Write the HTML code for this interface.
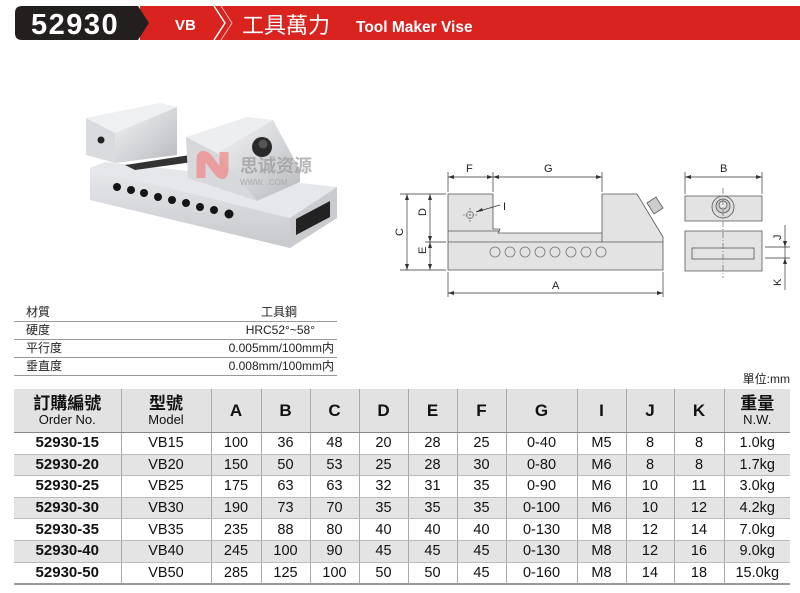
<!DOCTYPE html>
<html><head><meta charset="utf-8"><style>
body{margin:0;width:800px;height:593px;background:#fff;position:relative;overflow:hidden;font-family:"Liberation Sans","Noto Sans CJK TC",sans-serif;}
.abs{position:absolute}
table{border-collapse:collapse;position:absolute;left:14px;top:389px;width:776px;table-layout:fixed}
td{text-align:center;font-size:14.5px;color:#111;height:20.6px;padding:0;border-left:1px solid #aaa;line-height:18px}
td:first-child{border-left:none;font-weight:bold;font-size:15px}
tr.h td{background:#e2e2e2;height:43px;font-weight:bold;font-size:17px;border-bottom:1px solid #888}
tr.h td small{display:block;font-weight:normal;font-size:13px;line-height:14px}
tr.g td{background:#e4e4e4}
tr.w td{background:#fff}
tr td{border-bottom:1px solid #bbb}
tr:last-child td{border-bottom:2px solid #999}
.spec{position:absolute;left:14px;width:323px;font-size:12px;color:#222;border-bottom:1px solid #999;height:17px;line-height:17px}
.spec span{position:absolute;right:0}
.spec b{font-weight:normal;padding-left:12px}
</style></head><body>
<svg class="abs" style="left:0;top:0" width="800" height="50">
<rect x="140" y="6" width="660" height="34" fill="#d8231f"/>
<path d="M22 6 H138 L149 23 L138 40 H22 Q15 40 15 33 V13 Q15 6 22 6Z" fill="#231f1f"/>
<path d="M214 6 L225 23 L214 40" fill="none" stroke="#fff" stroke-width="1.5"/>
<path d="M221 6 L232 23 L221 40" fill="none" stroke="#f6b7b5" stroke-width="1"/>
<text x="31" y="34" font-family="Liberation Sans" font-weight="bold" font-size="29" letter-spacing="1.5" fill="#fff">52930</text>
<text x="175" y="30" font-family="Liberation Sans" font-weight="bold" font-size="15" fill="#fff">VB</text>
<text x="242" y="33" font-family="Noto Sans CJK TC" font-size="22" fill="#fff">工具萬力</text>
<text x="356" y="32" font-family="Liberation Sans" font-weight="bold" font-size="15.5" fill="#fff">Tool Maker Vise</text>
</svg>

<svg class="abs" style="left:0;top:0" width="380" height="280">
<defs><linearGradient id="m" x1="0" y1="0" x2="1" y2="1"><stop offset="0" stop-color="#f4f4f6"/><stop offset="1" stop-color="#b8babe"/></linearGradient>
<linearGradient id="m2" x1="0" y1="0" x2="0" y2="1"><stop offset="0" stop-color="#e8e9ec"/><stop offset="1" stop-color="#c6c8cc"/></linearGradient></defs>
<polygon points="90,168 105,162 337,187 290,218" fill="#e6e7ea"/>
<polygon points="90,168 290,218 290,248 90,200" fill="url(#m2)"/>
<polygon points="290,218 337,187 337,218 290,248" fill="#c9cbcf"/>
<polygon points="296,219 330,201 330,217 296,235" fill="#222"/>
<polygon points="125,165 190,155 200,161 135,170" fill="#333"/>
<polygon points="86,118 160,103 177,107 115,133" fill="#eef0f2"/>
<polygon points="86,118 115,133 115,163 86,155" fill="#d9dbde"/>
<polygon points="115,133 177,107 177,155 115,163" fill="url(#m)"/>
<circle cx="101" cy="140" r="3.5" fill="#222"/>
<polygon points="186,137 247,117 273,120 217,153" fill="#eceef0"/>
<polygon points="186,137 217,153 257,198 257,201 188,178" fill="#d6d8db"/>
<polygon points="217,153 273,120 300,170 300,182 257,201" fill="url(#m)"/>
<circle cx="262" cy="147" r="10" fill="#2a2a2a"/><circle cx="263" cy="144" r="4.5" fill="#555"/>
<g fill="#151515">
<circle cx="117" cy="187" r="4"/><circle cx="131" cy="190" r="4"/><circle cx="144" cy="193" r="4"/><circle cx="158" cy="197" r="4"/><circle cx="172" cy="200" r="4"/><circle cx="186" cy="203" r="4"/><circle cx="200" cy="207" r="4"/><circle cx="214" cy="210" r="4"/><circle cx="229" cy="214" r="4.5"/></g>
<path d="M201 178 V160 Q201 152 208 158 L217 170 Q224 180 224 168 V152" fill="none" stroke="#f08a8a" stroke-width="9" opacity="0.75"/>
<text x="240" y="172" font-family="Noto Sans CJK SC" font-size="18" font-weight="bold" fill="#999" opacity="0.7">思诚资源</text>
<text x="240" y="185" font-size="8" fill="#aaa">WWW.   .COM</text>
</svg>

<svg class="abs" style="left:0;top:0" width="800" height="300" font-family="Liberation Sans" font-size="11" fill="#222">
<g stroke="#555" stroke-width="0.8" fill="#e3e3e3">
<polygon points="448,194 493,194 493,229 500,229 498,233 602,233 602,194 637,194 663,237 663,270 448,270"/>
<line x1="448" y1="231" x2="500" y2="231"/><line x1="448" y1="242" x2="663" y2="242"/><line x1="602" y1="233" x2="602" y2="242"/>
<polygon points="685,196 762,196 762,221 685,221"/>
<polygon points="685,231 762,231 762,271 685,271"/>
<rect x="692" y="248" width="62" height="11" fill="#e3e3e3"/>
<polygon points="647,203 656,197 663,208 654,214" fill="#ccc"/>
<circle cx="723" cy="207" r="11" fill="#ddd"/><circle cx="723" cy="206" r="7" fill="#ccc"/><circle cx="723" cy="205" r="4" fill="#e8e8e8"/>
</g>
<g fill="none" stroke="#777" stroke-width="0.8">
<circle cx="495" cy="252" r="5"/><circle cx="510" cy="252" r="5"/><circle cx="525" cy="252" r="5"/><circle cx="540" cy="252" r="5"/><circle cx="555" cy="252" r="5"/><circle cx="571" cy="252" r="5"/><circle cx="586" cy="252" r="5"/><circle cx="601" cy="252" r="5"/>
<circle cx="470" cy="215" r="3.5"/>
<path d="M723 188 V278" stroke-dasharray="6,2,1,2"/>
<path d="M463 215 H477 M470 208 V222" stroke-dasharray="2,1"/>
</g>
<g stroke="#333" stroke-width="0.7" fill="none">
<path d="M448 172 V192 M493 172 V192 M602 172 V192 M448 177 H602 M685 172 V194 M762 172 V194 M685 177 H762"/>
<path d="M448 272 V297 M663 272 V297 M448 293 H663"/>
<path d="M400 194 H446 M400 270 H446 M425 242 H446 M407 194 V270 M430 194 V270"/>
<path d="M765 247 H790 M765 258 H790 M785 225 V290"/>
<path d="M476 212 L500 205"/>
</g>
<g fill="#333">
<path d="M448 177 l6 -2 v4z M493 177 l-6 -2 v4z M493 177 l6 -2 v4z M602 177 l-6 -2 v4z M685 177 l6 -2 v4z M762 177 l-6 -2 v4z M448 293 l6 -2 v4z M663 293 l-6 -2 v4z"/>
<path d="M407 194 l-2 6 h4z M407 270 l-2 -6 h4z M430 194 l-2 6 h4z M430 242 l-2 -6 h4z M430 242 l-2 6 h4z M430 270 l-2 -6 h4z M785 247 l-2 -6 h4z M785 258 l-2 6 h4z M476 212 l6 -4 l1 3z"/>
</g>
<text x="466" y="172">F</text><text x="544" y="172">G</text><text x="720" y="172">B</text><text x="552" y="289">A</text>
<text x="503" y="210">I</text>
<text transform="translate(403,236) rotate(-90)">C</text>
<text transform="translate(426,216) rotate(-90)">D</text>
<text transform="translate(426,254) rotate(-90)">E</text>
<text transform="translate(781,240) rotate(-90)">J</text>
<text transform="translate(781,286) rotate(-90)">K</text>
</svg>

<div class="spec" style="top:304px"><b>材質</b><span style="right:40px">工具鋼</span></div>
<div class="spec" style="top:322px"><b>硬度</b><span style="right:22px">HRC52°~58°</span></div>
<div class="spec" style="top:340px"><b>平行度</b><span style="right:3px">0.005mm/100mm内</span></div>
<div class="spec" style="top:358px"><b>垂直度</b><span style="right:3px">0.008mm/100mm内</span></div>
<div class="abs" style="right:10px;top:370px;font-size:12px;color:#222">單位:mm</div>

<table>
<colgroup><col style="width:107px"><col style="width:90px"><col style="width:50px"><col style="width:49px"><col style="width:49px"><col style="width:49px"><col style="width:49px"><col style="width:49px"><col style="width:71px"><col style="width:49px"><col style="width:48px"><col style="width:50px"><col></colgroup>
<tr class="h"><td>訂購編號<small>Order No.</small></td><td>型號<small>Model</small></td><td>A</td><td>B</td><td>C</td><td>D</td><td>E</td><td>F</td><td>G</td><td>I</td><td>J</td><td>K</td><td>重量<small>N.W.</small></td></tr>
<tr class="w"><td>52930-15</td><td>VB15</td><td>100</td><td>36</td><td>48</td><td>20</td><td>28</td><td>25</td><td>0-40</td><td>M5</td><td>8</td><td>8</td><td>1.0kg</td></tr>
<tr class="g"><td>52930-20</td><td>VB20</td><td>150</td><td>50</td><td>53</td><td>25</td><td>28</td><td>30</td><td>0-80</td><td>M6</td><td>8</td><td>8</td><td>1.7kg</td></tr>
<tr class="w"><td>52930-25</td><td>VB25</td><td>175</td><td>63</td><td>63</td><td>32</td><td>31</td><td>35</td><td>0-90</td><td>M6</td><td>10</td><td>11</td><td>3.0kg</td></tr>
<tr class="g"><td>52930-30</td><td>VB30</td><td>190</td><td>73</td><td>70</td><td>35</td><td>35</td><td>35</td><td>0-100</td><td>M6</td><td>10</td><td>12</td><td>4.2kg</td></tr>
<tr class="w"><td>52930-35</td><td>VB35</td><td>235</td><td>88</td><td>80</td><td>40</td><td>40</td><td>40</td><td>0-130</td><td>M8</td><td>12</td><td>14</td><td>7.0kg</td></tr>
<tr class="g"><td>52930-40</td><td>VB40</td><td>245</td><td>100</td><td>90</td><td>45</td><td>45</td><td>45</td><td>0-130</td><td>M8</td><td>12</td><td>16</td><td>9.0kg</td></tr>
<tr class="w"><td>52930-50</td><td>VB50</td><td>285</td><td>125</td><td>100</td><td>50</td><td>50</td><td>45</td><td>0-160</td><td>M8</td><td>14</td><td>18</td><td>15.0kg</td></tr>
</table>
</body></html>
